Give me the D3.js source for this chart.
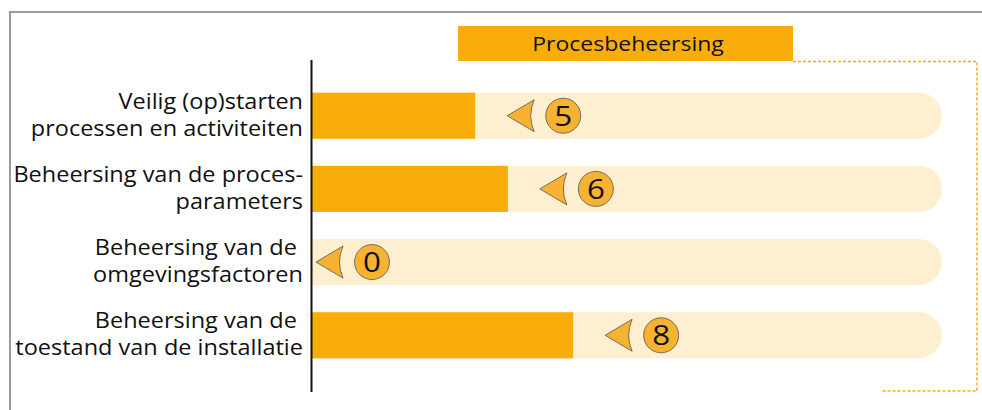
<!DOCTYPE html>
<html>
<head>
<meta charset="utf-8">
<script src="https://cdn.jsdelivr.net/npm/d3@7"></script>
<style>
  body { margin: 0; background: #fff; }
  text { font-family: "Open Sans", sans-serif; }
</style>
</head>
<body>
<svg></svg>
<script>
const width = 982;
const height = 410;

const title = 'Procesbeheersing';
const categories = [
  ['Veilig (op)starten', 'processen en activiteiten'],
  ['Beheersing van de proces-', 'parameters'],
  ['Beheersing van de ', 'omgevingsfactoren'],
  ['Beheersing van de ', 'toestand van de installatie']
];
const scores = [5, 6, 0, 8];
const maxScore = 19.3;

const orange = '#f8ad0a';
const pale = '#fdefcf';

const svg = d3.select('svg')
  .attr('width', width)
  .attr('height', height);

const x = d3.scaleLinear().domain([0, maxScore]).range([312, 942]);
const y = d3.scaleBand()
  .domain(d3.range(scores.length))
  .range([89, 362])
  .paddingInner(0.37)
  .paddingOuter(0.05);

// outer frame (only top and left visible)
svg.append('path')
  .attr('d', `M10,${height + 5}V12H${width + 5}`)
  .attr('fill', 'none')
  .attr('stroke', '#9b9b9b')
  .attr('stroke-width', 2);

// dotted bracket from title box
svg.append('path')
  .attr('d', 'M793,61.5H977V391H882')
  .attr('fill', 'none')
  .attr('stroke', orange)
  .attr('stroke-width', 1.5)
  .attr('stroke-dasharray', '3,2');

// title box
svg.append('rect')
  .attr('x', 458).attr('y', 26)
  .attr('width', 335).attr('height', 35)
  .attr('fill', orange);
svg.append('text')
  .attr('transform', 'translate(628,51) scale(1.15,1)')
  .attr('text-anchor', 'middle')
  .attr('font-size', 20)
  .attr('fill', '#111')
  .text(title);

const rows = svg.selectAll('.row')
  .data(scores)
  .enter()
  .append('g')
    .attr('class', 'row')
    .attr('transform', (d, i) => `translate(0,${y(i)})`);

const bh = y.bandwidth();
const r = bh / 2;

// background track with rounded right end
rows.append('path')
  .attr('d', () => {
    const x0 = x(0), x1 = x(maxScore);
    return `M${x0},0H${x1 - r}A${r},${r} 0 0 1 ${x1 - r},${bh}H${x0}Z`;
  })
  .attr('fill', pale);

rows.append('rect')
  .attr('x', x(0))
  .attr('y', 0)
  .attr('width', d => x(d) - x(0))
  .attr('height', bh)
  .attr('fill', orange);

// marker: arrow + circle with score
const marker = rows.append('g')
  .attr('transform', d => `translate(${x(d) + (d > 0 ? 32 : 4)},${r})`);

marker.append('path')
  .attr('d', 'M0,0L27,-16Q20,0 27,16Z')
  .attr('fill', '#f7b232')
  .attr('stroke', '#555')
  .attr('stroke-width', 0.8)
  .attr('stroke-linejoin', 'round');

marker.append('circle')
  .attr('cx', 56)
  .attr('cy', 0)
  .attr('r', 17.5)
  .attr('fill', '#f7b232')
  .attr('stroke', '#555')
  .attr('stroke-width', 0.8);

marker.append('text')
  .attr('transform', 'translate(56,10) scale(1.12,1)')
  .attr('text-anchor', 'middle')
  .attr('font-size', 28)
  .attr('fill', '#111')
  .text(d => d);

// category labels
rows.append('text')
  .attr('transform', `translate(303,0) scale(1.12,1)`)
  .attr('text-anchor', 'end')
  .attr('font-size', 21)
  .attr('fill', '#111')
  .selectAll('tspan')
  .data((d, i) => categories[i])
  .enter()
  .append('tspan')
    .attr('x', 0)
    .attr('y', (d, j) => r - 7 + j * 27)
    .text(d => d);

// axis line
svg.append('line')
  .attr('x1', 311.5).attr('x2', 311.5)
  .attr('y1', 60).attr('y2', 392)
  .attr('stroke', '#111')
  .attr('stroke-width', 2);
</script>
</body>
</html>
